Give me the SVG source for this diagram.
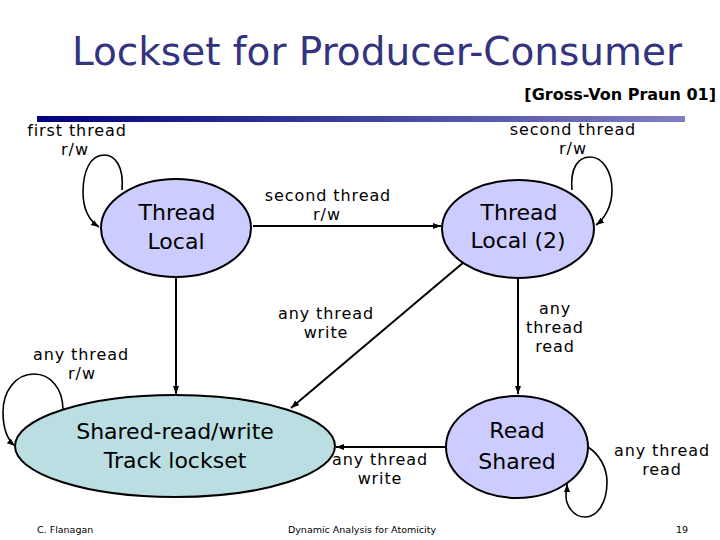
<svg xmlns="http://www.w3.org/2000/svg" width="720" height="540" viewBox="0 0 720 540">
<defs>
<linearGradient id="bar" x1="0" y1="0" x2="1" y2="0">
<stop offset="0" stop-color="#000080"/>
<stop offset="1" stop-color="#8080c0"/>
</linearGradient>
<marker id="ah" markerWidth="9" markerHeight="7" refX="8" refY="3" orient="auto" markerUnits="userSpaceOnUse">
<path d="M0,0 L8,3 L0,6 z" fill="#000"/>
</marker>
<style>
.node{stroke:#000;stroke-width:2}
.lav{fill:#ccccff}
.teal{fill:#bbdee2}
.nt{font-family:"DejaVu Sans",sans-serif;font-size:22px;text-anchor:middle;fill:#000}
.lb{font-family:"DejaVu Sans",sans-serif;font-size:16px;letter-spacing:0.9px;text-anchor:middle;fill:#000}
.ft{font-family:"DejaVu Sans",sans-serif;font-size:9.5px;fill:#000}
.edge{fill:none;stroke:#000;stroke-width:2;marker-end:url(#ah)}
.loop{fill:none;stroke:#000;stroke-width:1.6;marker-end:url(#ah)}
</style>
</defs>
<rect width="720" height="540" fill="#fff"/>
<text x="377" y="65" font-family="DejaVu Sans, sans-serif" font-size="39" fill="#333380" text-anchor="middle">Lockset for Producer-Consumer</text>
<text x="716" y="100" font-family="DejaVu Sans, sans-serif" font-size="16" font-weight="bold" fill="#000" text-anchor="end">[Gross-Von Praun 01]</text>
<rect x="37" y="116" width="648" height="6" fill="url(#bar)"/>

<g id="connectors">
<path class="edge" d="M253,226 L441,226"/>
<path class="edge" d="M176,278 L176,394"/>
<path class="edge" d="M464,262 L291,408"/>
<path class="edge" d="M518,279 L518,394"/>
<path class="edge" d="M446,447 L336,447"/>
<path class="loop" d="M122,190 C124,166 115,155 104,155 C90,155 83,172 83,192 C83,210 90,221 99,227"/>
<path class="loop" d="M572,190 C570,168 578,157 590,157 C603,157 612,172 612,190 C612,207 604,219 596,225"/>
<path class="loop" d="M63,410 C63,388 50,374 34,374 C15,374 3,392 3,412 C3,430 9,441 15,446"/>
<path class="loop" d="M588,447 C600,455 607,468 607,482 C607,502 598,517 585,517 C573,517 566,505 566,496 C566,491 567,488 567,484"/>
<text class="lb"><tspan x="77" y="136">first thread</tspan><tspan x="75" y="155">r/w</tspan></text>
<text class="lb"><tspan x="573" y="135">second thread</tspan><tspan x="573" y="154">r/w</tspan></text>
<text class="lb"><tspan x="328" y="201">second thread</tspan><tspan x="327" y="220">r/w</tspan></text>
<text class="lb"><tspan x="326" y="319">any thread</tspan><tspan x="326" y="338">write</tspan></text>
<text class="lb"><tspan x="555" y="314">any</tspan><tspan x="555" y="333">thread</tspan><tspan x="555" y="352">read</tspan></text>
<text class="lb"><tspan x="81" y="360">any thread</tspan><tspan x="82" y="379">r/w</tspan></text>
<text class="lb"><tspan x="380" y="465">any thread</tspan><tspan x="380" y="484">write</tspan></text>
<text class="lb"><tspan x="662" y="456">any thread</tspan><tspan x="662" y="475">read</tspan></text>
</g>

<g id="thread-local">
<ellipse class="node lav" cx="176" cy="228" rx="75" ry="49" stroke-width="3.5"/>
<text class="nt"><tspan x="177" y="220">Thread</tspan><tspan x="176" y="249">Local</tspan></text>
</g>
<g id="thread-local-2">
<ellipse class="node lav" cx="518" cy="229" rx="76" ry="49"/>
<text class="nt"><tspan x="519" y="220">Thread</tspan><tspan x="518" y="248">Local (2)</tspan></text>
</g>
<g id="shared-rw">
<ellipse class="node teal" cx="175" cy="446" rx="160" ry="51"/>
<text class="nt"><tspan x="175" y="439">Shared-read/write</tspan><tspan x="175" y="468">Track lockset</tspan></text>
</g>
<g id="read-shared">
<ellipse class="node lav" cx="517" cy="447" rx="71" ry="51"/>
<text class="nt"><tspan x="517" y="438">Read</tspan><tspan x="517" y="469">Shared</tspan></text>
</g>

<text class="ft" x="37" y="533">C. Flanagan</text>
<text class="ft" x="362" y="533" text-anchor="middle">Dynamic Analysis for Atomicity</text>
<text class="ft" x="682" y="533" text-anchor="middle">19</text>
</svg>
